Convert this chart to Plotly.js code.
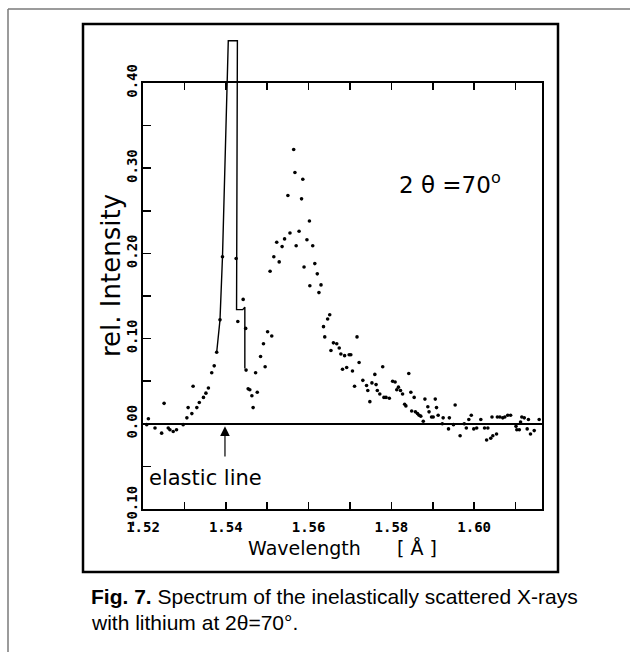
<!DOCTYPE html>
<html>
<head>
<meta charset="utf-8">
<script src="https://cdn.plot.ly/plotly-3.0.1.min.js"></script>
<style>html,body{margin:0;padding:0;background:#fff;}#chart{width:630px;height:652px;}</style>
</head>
<body>
<div id="chart"></div>
<script>
// ---- data ----
const wavelength = [
  1.5209,1.5213,1.5229,1.5245,1.5251,1.5261,1.5265,1.5273,1.5281,1.5297,
  1.5306,1.5309,1.5318,1.5321,1.5330,1.5336,1.5346,1.5352,1.5358,1.5366,
  1.5372,1.5378,1.5386,1.5392,1.5425,1.5429,1.5442,1.5448,1.5449,1.5454,
  1.5458,1.5463,1.5466,1.5472,1.5476,1.5484,1.5491,1.5495,1.5501,1.5507,
  1.5511,1.5516,1.5523,1.5529,1.5536,1.5542,1.5550,1.5555,1.5564,1.5567,
  1.5570,1.5577,1.5583,1.5586,1.5589,1.5596,1.5602,1.5603,1.5610,1.5615,
  1.5621,1.5625,1.5630,1.5636,1.5639,1.5646,1.5651,1.5654,1.5660,1.5668,
  1.5674,1.5678,1.5682,1.5687,1.5692,1.5698,1.5702,1.5706,1.5711,1.5717,
  1.5722,1.5731,1.5740,1.5743,1.5748,1.5753,1.5760,1.5763,1.5766,1.5772,
  1.5779,1.5782,1.5787,1.5795,1.5803,1.5809,1.5813,1.5817,1.5822,1.5827,
  1.5832,1.5835,1.5842,1.5847,1.5849,1.5855,1.5858,1.5863,1.5867,1.5871,
  1.5877,1.5881,1.5888,1.5891,1.5897,1.5901,1.5906,1.5909,1.5913,1.5923,
  1.5925,1.5938,1.5940,1.5950,1.5954,1.5966,1.5976,1.5981,1.5987,1.5993,
  1.5999,1.6006,1.6016,1.6025,1.6030,1.6033,1.6040,1.6043,1.6045,1.6054,
  1.6056,1.6062,1.6069,1.6074,1.6081,1.6088,1.6101,1.6103,1.6109,1.6112,
  1.6115,1.6121,1.6128,1.6131,1.6136,1.6145,1.6157
];
const intensity = [
  -0.001,0.006,-0.005,-0.011,0.024,-0.005,-0.007,-0.009,-0.007,-0.001,
  0.007,0.019,0.012,0.044,0.019,0.025,0.031,0.036,0.042,0.060,
  0.068,0.084,0.122,0.196,0.194,0.120,0.146,0.112,0.063,0.041,
  0.040,0.033,0.019,0.060,0.037,0.079,0.094,0.067,0.108,0.179,
  0.103,0.196,0.213,0.190,0.208,0.217,0.268,0.224,0.322,0.295,
  0.209,0.226,0.264,0.287,0.184,0.216,0.238,0.162,0.209,0.188,
  0.176,0.154,0.163,0.114,0.102,0.123,0.128,0.086,0.095,0.094,
  0.089,0.082,0.064,0.080,0.066,0.081,0.081,0.062,0.044,0.102,
  0.072,0.051,0.045,0.039,0.026,0.048,0.058,0.046,0.039,0.035,
  0.067,0.031,0.031,0.030,0.050,0.049,0.040,0.043,0.039,0.035,
  0.023,0.021,0.059,0.037,0.015,0.031,0.014,0.012,0.010,0.009,
  0.003,0.029,0.020,0.014,0.008,0.008,0.029,0.019,0.010,0.000,
  0.007,-0.006,0.007,-0.001,0.022,-0.014,0.000,-0.005,0.005,0.010,
  -0.006,-0.005,0.005,-0.005,-0.019,-0.005,-0.017,0.008,-0.014,-0.012,
  0.008,0.008,0.007,0.008,0.010,0.010,-0.003,-0.007,-0.007,0.002,
  0.008,0.007,-0.006,0.005,-0.012,-0.008,0.005
];
// elastic (Cu K-alpha) line drawn as an outline running above the frame
const elasticX = [1.5378, 1.5386, 1.5392, 1.5406, 1.5428, 1.5425, 1.5426, 1.5441, 1.5446, 1.5446];
const elasticY = [0.084, 0.122, 0.196, 0.4496, 0.4496, 0.194, 0.134, 0.134, 0.137, 0.065];

const xTickVals = [1.52, 1.54, 1.56, 1.58, 1.60];
const yTickVals = [-0.10, -0.05, 0.00, 0.05, 0.10, 0.15, 0.20, 0.25, 0.30, 0.35, 0.40];
const yTickText = ['-0.10', '', '0.00', '', '0.10', '', '0.20', '', '0.30', '', '0.40'];
const xRange = [1.52, 1.61638];
const yRange = [-0.10, 0.40];
const elasticLinePos = 1.5398;

// ---- layout geometry (pixels) ----
const W = 630, H = 652;
const L = 143, R = 542, T2 = 36, B = 509, T = 83;
const plotH = B - T2, plotW = R - L;
const pxX = p => (p - L) / plotW;
const pxY = p => (B - p) / plotH;
const yScale = (B - T) / (yRange[1] - yRange[0]);      // px per unit
const y2Top = yRange[0] + plotH / yScale;

const tickFont = {family: 'DejaVu Sans Mono', size: 14, color: '#000', weight: 'bold'};
const textFont = {family: 'DejaVu Sans', color: '#000'};
const NB = '\u00A0';

const traces = [
  {
    type: 'scatter', mode: 'markers', x: wavelength, y: intensity,
    xaxis: 'x', yaxis: 'y',
    marker: {color: '#000', size: 3.6}, hoverinfo: 'skip', showlegend: false
  },
  {
    type: 'scatter', mode: 'lines', x: elasticX, y: elasticY,
    xaxis: 'x', yaxis: 'y2',
    line: {color: '#000', width: 1.4}, hoverinfo: 'skip', showlegend: false
  }
];

const layout = {
  width: W, height: H,
  margin: {l: L, r: W - R, t: T2, b: H - B, pad: 0},
  paper_bgcolor: '#fff', plot_bgcolor: 'rgba(0,0,0,0)',
  showlegend: false,
  xaxis: {
    range: xRange, domain: [0, 1], anchor: 'y',
    showgrid: false, zeroline: false,
    showline: true, linecolor: '#000', linewidth: 2, mirror: 'ticks',
    ticks: 'inside', ticklen: 7, tickwidth: 1.5, tickcolor: '#000',
    tickvals: xTickVals, ticktext: xTickVals.map(v => v.toFixed(2)),
    minor: {dtick: 0.01, tick0: 1.52, ticks: 'inside', ticklen: 7, tickwidth: 1.5, tickcolor: '#000'},
    tickfont: tickFont, ticklabelstandoff: 4,
    title: {text: 'Wavelength' + NB.repeat(6) + '[' + NB + 'Å' + NB + ']',
            font: Object.assign({size: 19}, textFont), standoff: 8},
    automargin: false, fixedrange: true
  },
  yaxis: {
    range: yRange, domain: [0, (B - T) / plotH], anchor: 'x',
    showgrid: false,
    zeroline: true, zerolinecolor: '#000', zerolinewidth: 2,
    showline: true, linecolor: '#000', linewidth: 2, mirror: true,
    ticks: 'inside', ticklen: 8, tickwidth: 1.5, tickcolor: '#000',
    tickvals: yTickVals, ticktext: yTickText,
    tickangle: -90, tickfont: tickFont, ticklabelstandoff: -2,
    automargin: false, fixedrange: true
  },
  yaxis2: {
    range: [yRange[0], y2Top], domain: [0, 1], anchor: 'x',
    visible: false, showgrid: false, zeroline: false, fixedrange: true
  },
  shapes: [
    {type: 'line', xref: 'paper', yref: 'paper', x0: pxX(8), x1: pxX(630), y0: pxY(9), y1: pxY(9),
     line: {color: '#7a7a7a', width: 1.5}},
    {type: 'line', xref: 'paper', yref: 'paper', x0: pxX(8), x1: pxX(8), y0: pxY(9), y1: pxY(652),
     line: {color: '#7a7a7a', width: 1.5}},
    {type: 'rect', xref: 'paper', yref: 'paper', x0: pxX(83), x1: pxX(558), y0: pxY(572), y1: pxY(24),
     line: {color: '#000', width: 2.5}, fillcolor: 'rgba(0,0,0,0)'}
  ],
  annotations: [
    {xref: 'paper', yref: 'paper', x: pxX(111), y: pxY(276), text: 'rel. Intensity',
     textangle: -90, showarrow: false, font: Object.assign({size: 26}, textFont),
     xanchor: 'center', yanchor: 'middle'},
    {xref: 'x', yref: 'y', x: 1.5352, y: -0.0636, text: 'elastic line', showarrow: false,
     font: Object.assign({size: 21}, textFont), xanchor: 'center', yanchor: 'middle'},
    {xref: 'x', yref: 'y', x: 1.5942, y: 0.2826, text: '2' + NB + 'θ' + NB + '=70<sup>o</sup>', showarrow: false,
     font: Object.assign({size: 23}, textFont), xanchor: 'center', yanchor: 'middle'},
    {xref: 'x', yref: 'y', x: elasticLinePos, y: -0.003, axref: 'x', ayref: 'y',
     ax: elasticLinePos, ay: -0.040, text: '', showarrow: true,
     arrowhead: 2, arrowsize: 1.6, arrowwidth: 1.2, arrowcolor: '#000', standoff: 0},
    {xref: 'paper', yref: 'paper', x: pxX(89), y: pxY(596), xanchor: 'left', yanchor: 'middle',
     text: '<b>Fig. 7.</b> Spectrum of the inelastically scattered X-rays', showarrow: false,
     font: {family: 'Liberation Sans', size: 21, color: '#000'}},
    {xref: 'paper', yref: 'paper', x: pxX(89), y: pxY(622), xanchor: 'left', yanchor: 'middle',
     text: 'with lithium at 2θ=70°.', showarrow: false,
     font: {family: 'Liberation Sans', size: 21, color: '#000'}}
  ]
};

Plotly.newPlot('chart', traces, layout, {displayModeBar: false, staticPlot: true});
</script>
</body>
</html>
